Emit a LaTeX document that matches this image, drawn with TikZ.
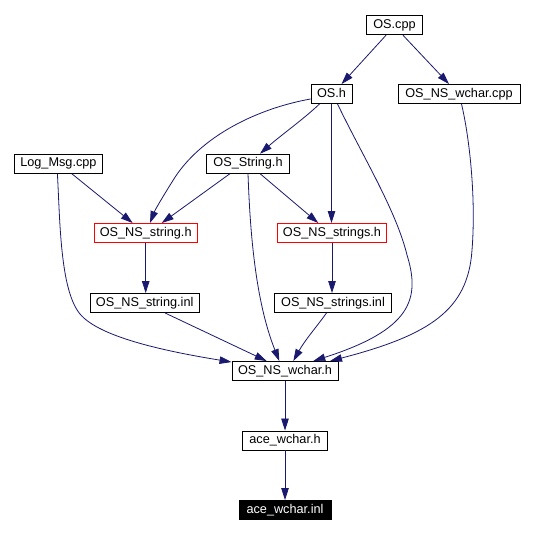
\documentclass[tikz,border=0pt]{standalone}
\usepackage{fontspec}
\setmainfont{Liberation Sans}
\usetikzlibrary{arrows.meta}
\definecolor{edgeblue}{RGB}{25,25,112}
\begin{document}
\begin{tikzpicture}[x=1pt,y=1pt,
  box/.style={draw=black, line width=0.9pt, inner sep=0pt, minimum height=19pt,
    font=\fontsize{12.7}{14}\selectfont, text height=9.2pt, text depth=2.6pt},
  redbox/.style={box, draw=red},
  blackbox/.style={box, fill=black, text=white},
  edge/.style={draw=edgeblue, line width=0.8pt, -{Triangle[length=12pt,width=7.5pt]}},
]
\fill[white] (0,0) rectangle (533,-534);
\useasboundingbox (0,0) rectangle (533,-534);
% nodes
\node[box, minimum width=56pt]  (oscpp)    at (394.5,-25.3) {OS.cpp};
\node[box, minimum width=41pt]  (osh)      at (331.5,-94)   {OS.h};
\node[box, minimum width=122pt] (nswcpp)   at (459,-94)     {OS\_NS\_wchar.cpp};
\node[box, minimum width=88pt]  (logmsg)   at (58.4,-163.7) {Log\_Msg.cpp};
\node[box, minimum width=83pt]  (ostrh)    at (248,-163.7)  {OS\_String.h};
\node[redbox, minimum width=102.5pt] (nsstrh)  at (145.7,-233) {OS\_NS\_string.h};
\node[redbox, minimum width=109pt]   (nsstrsh) at (332,-233)   {OS\_NS\_strings.h};
\node[box, minimum width=108.5pt] (nsstrinl)  at (144.7,-303) {OS\_NS\_string.inl};
\node[box, minimum width=117pt]   (nsstrsinl) at (333,-303)   {OS\_NS\_strings.inl};
\node[box, minimum width=106pt] (nswh)     at (285,-371)    {OS\_NS\_wchar.h};
\node[box, minimum width=85pt]  (acewh)    at (285,-440.5)  {ace\_wchar.h};
\node[blackbox, minimum width=92pt] (aceinl) at (285,-510)  {ace\_wchar.inl};
% edges
\draw[edge] ([xshift=-8.5pt]oscpp.south) -- ([xshift=10pt]osh.north);
\draw[edge] ([xshift=8.5pt]oscpp.south) -- ([xshift=-10pt]nswcpp.north);
\draw[edge] ([yshift=-5pt]osh.west) .. controls (260,-108) and (200,-135) .. (172,-182)
   .. controls (162,-198) and (155,-210) .. ([xshift=4.3pt]nsstrh.north);
\draw[edge] ([xshift=-12pt]osh.south) .. controls (305,-118) and (280,-136) .. ([xshift=12pt]ostrh.north);
\draw[edge] (osh.south) -- (osh.south |- nsstrsh.north);
\draw[edge] ([xshift=6pt]osh.south) .. controls (362,-155) and (396,-210) .. (407,-255)
   .. controls (421,-300) and (410,-330) .. ([xshift=28.3pt]nswh.north);
\draw[edge] ([xshift=2.5pt]nswcpp.south) .. controls (470,-140) and (476,-200) .. (472,-250)
   .. controls (468,-310) and (430,-335) .. ([xshift=45pt]nswh.north);
\draw[edge] ([xshift=13.3pt]logmsg.south) -- ([xshift=-13pt]nsstrh.north);
\draw[edge] ([xshift=-1pt]logmsg.south) .. controls (60,-220) and (60,-290) .. (80,-314)
   .. controls (100,-338) and (170,-352) .. ([yshift=-1pt]nswh.north west);
\draw[edge] ([xshift=-18pt]ostrh.south) -- ([xshift=16pt]nsstrh.north);
\draw[edge] ([xshift=12pt]ostrh.south) -- ([xshift=-13.7pt]nsstrsh.north);
\draw[edge] (ostrh.south) .. controls (250,-230) and (255,-300) .. ([xshift=-5.7pt]nswh.north);
\draw[edge] (nsstrh.south) -- (nsstrh.south |- nsstrinl.north);
\draw[edge] (nsstrsh.south) -- (nsstrsh.south |- nsstrsinl.north);
\draw[edge] ([xshift=20.3pt]nsstrinl.south) -- ([xshift=-18.3pt]nswh.north);
\draw[edge] ([xshift=-6.5pt]nsstrsinl.south) .. controls (318,-325) and (305,-340) .. ([xshift=8.3pt]nswh.north);
\draw[edge] (nswh.south) -- (acewh.north);
\draw[edge] (acewh.south) -- (aceinl.north);
\end{tikzpicture}
\end{document}
